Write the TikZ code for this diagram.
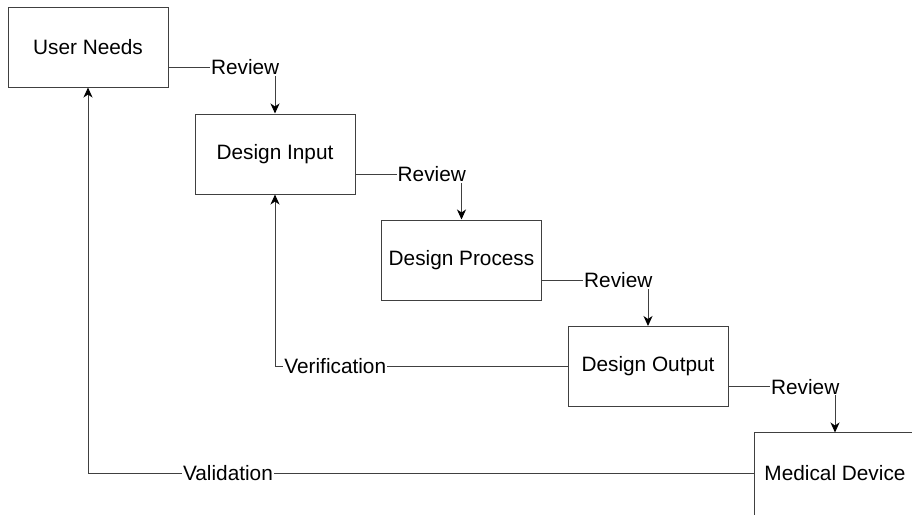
\documentclass[tikz,border=0pt]{standalone}
\usepackage{fontspec}
\setmainfont{Liberation Sans}
\usetikzlibrary{arrows.meta,calc}
\begin{document}
\begin{tikzpicture}[x=1pt,y=-1pt,
  stage/.style={draw=black!75, line width=1pt, minimum width=160pt, minimum height=80pt,
    inner sep=0pt, font=\fontsize{20.8}{25}\selectfont},
  frame/.style={draw=black!75, line width=1pt},
  flow/.style={draw=black!75, line width=1pt,
    -{Stealth[length=10pt,width=9pt,inset=3pt,color=black]}},
  tag/.style={fill=white, inner sep=1pt, text=black, font=\fontsize{20.8}{25}\selectfont}]
\useasboundingbox (0,0) rectangle (912,514);
\clip (0,0) rectangle (912,514);

% process stages
\node[stage] (un) at (88,47)      {User Needs};
\node[stage] (di) at (275,154)    {Design Input};
\node[stage] (dp) at (461.5,260)  {Design Process};
\node[stage] (do) at (648,366.5)  {Design Output};
\node[stage,draw=none] (md) at (835,473) {Medical Device};
% last stage runs past the lower right corner
\draw[frame] ($(md.south west)+(0,20)$) |- ($(md.north east)+(20,0)$);

% review steps between consecutive stages
\draw[flow] ($(un.east)!0.5!(un.south east)$) -| node[tag,pos=0.36]{Review} (di.north);
\draw[flow] ($(di.east)!0.5!(di.south east)$) -| node[tag,pos=0.36]{Review} (dp.north);
\draw[flow] ($(dp.east)!0.5!(dp.south east)$) -| node[tag,pos=0.36]{Review} (do.north);
\draw[flow] ($(do.east)!0.5!(do.south east)$) -| node[tag,pos=0.36]{Review} (md.north);

% feedback loops
\draw[flow] (do.west) -| node[tag,pos=0.397]{Verification} (di.south);
\draw[flow] (md.west) -| node[tag,pos=0.395]{Validation} (un.south);
\end{tikzpicture}
\end{document}
